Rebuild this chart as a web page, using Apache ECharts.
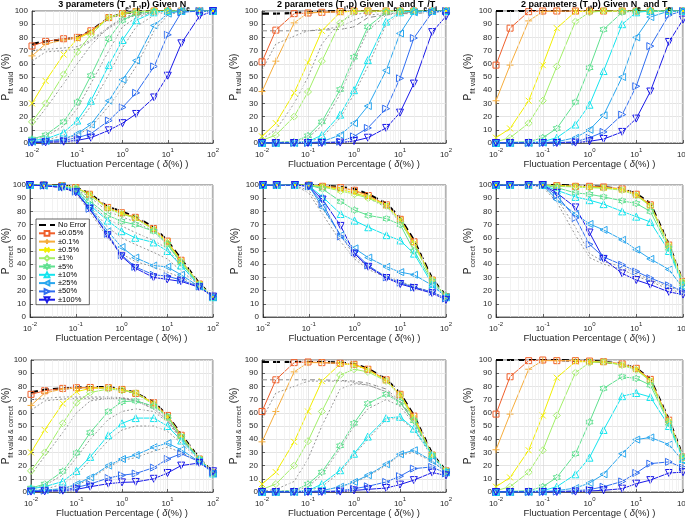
<!DOCTYPE html>
<html><head><meta charset="utf-8">
<script src="https://cdn.jsdelivr.net/npm/echarts@6/dist/echarts.min.js"></script>
<style>html,body{margin:0;padding:0;background:#fff}#c{width:685px;height:518px}</style>
</head><body><div id="c"></div><script>
const xValues = [0.01,0.02,0.05,0.1,0.2,0.5,1,2,5,10,20,50,100];
const seriesNames = ['No Error','±0.05%','±0.1%','±0.5%','±1%','±5%','±10%','±25%','±50%','±100%'];
const panelTitles = [
  '{b|3 parameters (T}{s|e}{b|,T}{s|i}{b|,p) Given N}{s|e}',
  '{b|2 parameters (T}{s|i}{b|,p) Given N}{s|e}{b| and T}{s|e}{b|/T}{s|i}',
  '{b|2 parameters (T}{s|i}{b|,p) Given N}{s|e}{b| and T}{s|e}'
];
const yAxisSubs = ['fit valid','correct','fit valid & correct'];

// Row 1: P fit valid
const fitValid_3p = [
  [75,77,78.5,80,85,95,98,99.5,100,100,100,100,100],
  [73.5,77,79,80,85,95,98,99.5,100,100,100,100,100],
  [66,75,78,79.5,84,95,98,99.5,100,100,100,100,100],
  [30,47,67,79,84,95,98,99.5,100,100,100,100,100],
  [16,30,52,69,82,95,98,99.5,100,100,100,100,100],
  [3,6,16,31,51,79,93,98,99.5,100,100,100,100],
  [2,3,8,17,32,59,78,93,99,100,100,100,100],
  [1,1.5,3,7,14,32,48,62.5,89,98,100,100,100],
  [0.5,1,2,4,7,17,27,38,58,82,99,100,100],
  [0.3,0.5,1,2,4,9.6,15,22,34.5,51,75.5,96,100]
];
const fitValid_3p_ref = [
  [70,71,72,73,78,88,94,97,99,100,100,100,100],
  [62,69,70,71,77,87,93,97,99,100,100,100,100],
  [13,26,45,60,74,88,95,98,99.5,100,100,100,100],
  [2,5,13,26,45,70,88,95,99,100,100,100,100],
  [1,2,6,14,28,52,72,88,97,99.5,100,100,100],
  [0.5,1,3,6,12,28,42,58,85,97,99.5,100,100]
];
const fitValid_TeTi = [
  [98,98,98.5,99,99.5,100,100,100,100,100,100,100,100],
  [61.5,85.5,98,98.5,99,99.5,100,100,100,100,100,100,100],
  [39,62,91,98.7,99,99.5,100,100,100,100,100,100,100],
  [5,15,38,61,85,99,100,100,100,100,100,100,100],
  [2,6,20,38.7,62,91,99.5,100,100,100,100,100,100],
  [0.2,0.5,1,5.5,16,40.5,65,88,99,100,100,100,100],
  [0.1,0.2,0.5,1,6,21.5,40,62.8,92,99,100,100,100],
  [0,0,0,0.3,1,6,15,28,55,83,99,100,100],
  [0,0,0,0,0.3,1,5,11.4,26,49,79.5,99,100],
  [0,0,0,0,0,0.3,1.5,4,11.4,23,45,84,96]
];
const fitValid_TeTi_ref = [
  [3,10,30,50,75,92,97,99,100,100,100,100,100],
  [0,0.5,1,4,13,37,62,85,97,99.5,100,100,100],
  [0,0,0.5,1,4,19,37,58,90,98,99.5,100,100]
];
const fitValid_TeTi_refDash = [85,85,85,85,85.5,86,88,95,97,98,98,99,100];
const fitValid_TeTi_ref2 = [55,75,81,85,86,88,93,97,98,98.5,99,100,100];
const fitValid_Te = [
  [100,100,100,100,100,100,100,100,100,100,100,100,100],
  [59,87,99.5,100,100,100,100,100,100,100,100,100,100],
  [32,59,92.5,99.5,100,100,100,100,100,100,100,100,100],
  [4,11,32,59,87,99.5,100,100,100,100,100,100,100],
  [1,4,15,32,58,92,99,100,100,100,100,100,100],
  [0.2,0.5,1,4,11,31,57,86,99,100,100,100,100],
  [0,0.2,0.5,1,4,14,29,54.5,90,99,100,100,100],
  [0,0,0,0.3,1,4,10,21,50,80,95.4,100,100],
  [0,0,0,0,0.3,1,4,8.4,21.5,43,73.4,97,100],
  [0,0,0,0,0,0.3,1.3,3,8.4,18.5,39,76.5,93.5]
];

// Row 2: P correct
const correct_3p = [
  [100,100,99.5,98.5,93.5,83.5,80,76,68,58,44,25.5,15],
  [100,100,99.5,98,93,83,79,75.5,67,57.5,43,25,15],
  [100,100,99.5,98,93,82.5,79,75,67,57,43,25,15],
  [100,100,99.5,98,93,82.5,78.5,75,66.5,57,42.5,25,15],
  [100,100,99.5,98,92.5,82,78,75,66,56,42,25,15],
  [100,100,99,97,88,77,72.5,70,65,55,41,24.5,15],
  [100,100,99,96,85,73,65,60,56.5,50,39,24,15],
  [100,99.5,99,95,83,65,53,45,39,38,32,23,15],
  [100,99.5,98.5,95,82,63,47,38,32,31,28,23,15.5],
  [100,99.5,98,94.5,82,62,46,37,30,28.5,27,22.5,15.5]
];
const correct_3p_ref = [
  [100,100,99.5,97,91,80,76,72,65,55,41,25,15],
  [100,100,99,96,87,74,69,64,58,52,39,24,15],
  [100,99.5,98.5,95,84,68,60,55,49,44,35,24,15],
  [100,99.5,98,94,80,60,48,42,38,34,30,23,15]
];
const correct_TeTi = [
  [100,100,100,100,99.5,98.5,97,93,86,75,58,29,16],
  [100,100,100,100,99,98,96,92,85,74,57,28,15.5],
  [100,100,100,100,99,98,95.5,92,84.5,74,56.5,28,15.5],
  [100,100,100,100,99,96.5,94,91,84.5,73.5,56,28,15.5],
  [100,100,100,100,98.5,95.5,93,90,84,72.5,55,28,15.5],
  [100,100,100,100,97,87.5,81,77,74.5,70,50,27,16],
  [100,100,100,99.5,91,78,73,68,62,58,48,25,15],
  [100,100,100,99.5,83,62,52,45,38,34,32,24,15],
  [100,100,100,99,86,61,49,39,30,26,22.5,19,14],
  [100,100,100,99,89,69,48,38,29.5,25,22,18,13]
];
const correct_TeTi_ref = [
  [100,100,100,100,99,97,94,90,83,72,55,28,15],
  [100,100,99.5,96,82,62,46,38,31,27,23,19,14],
  [100,100,99.5,94,78,57,44,36,30,26,22,19,14]
];
const correct_Te = [
  [100,100,100,100,100,99.5,99,98.5,97,93.5,86,55,27],
  [100,100,100,100,99.5,99,99,98.5,97,93,85,54.5,27],
  [100,100,100,100,99.5,99,98.5,98,97,93,85,54.5,27],
  [100,100,100,100,99.5,99,98.5,98,96.5,92.5,84.5,54,26.5],
  [100,100,100,100,99,98.5,98,97.5,96,92,84,53.5,26.5],
  [100,100,100,100,98,94,93,91,88,86,80,52,25],
  [100,100,100,100,96,91,88.5,85.5,80,76,72,50,24],
  [100,100,100,100,89,78,70.5,66,58.5,51,44,36,22],
  [100,100,100,100,92,75,55,45.5,39.5,34.5,29.5,24,19.5],
  [100,100,100,100,94,83,64,44,33,28,24.5,19,17]
];
const correct_Te_ref = [
  [100,100,100,99,90,68,48,42,38,33,28,23,19],
  [100,100,100,98.5,87,62,45,40,36,31,27,21,18]
];

// Row 3: P fit valid & correct
const both_3p = [
  [75.5,77.5,78.5,79,79.5,79.5,78,75,68,58,43.5,25.5,15],
  [74,76.7,78.5,79,79.2,79,77.7,74.7,67.6,58,43,25,14.5],
  [65.6,75,78,78.7,79,79,77.5,75,67.5,57.5,43,25,14.5],
  [30,47,67,76,78.5,79,77.5,75,67,57,42.5,25,14.5],
  [16,30,52,67.6,75.4,78,77,75,66,56.5,42,25,14.5],
  [3,6,15.7,29.6,45,61,68.4,69,65,57,42,25,14.5],
  [2.5,4,8,16,26.6,43,52,56,56,50,39,25,14],
  [1,1.5,2.5,6,11,20,25,28,34,37,32,23,14],
  [0.5,1,1.5,3.5,6,10.6,12.7,14,18.5,25,29,23,15],
  [0.3,0.5,1,2,4,6.3,7.3,7.6,10,14.4,20,22,15.7]
];
const both_3p_ref = [
  [70,71,72,72,72,72,71.5,70,64,55,41,25,15],
  [62,69,70.5,71,71,71,71,69,63,54,41,25,15],
  [13,27,45,60,69,71,71,69,63,54,41,25,15],
  [2,5,13,26,40,55,61,63,61,53,40,25,15],
  [1,2,6,13,24,39,47,50,50,46,37,24,15],
  [0.5,1,2.5,5,10,19,24,26,31,34,30,23,15]
];
const both_TeTi = [
  [98.5,98.5,98.5,98.5,98.5,98,97,93.5,85.5,75,58,29,16],
  [61,85,98,98.5,98,97.5,96.7,93,85,74,57.5,28,16],
  [38,61,91,98,98,97.5,96.5,93,84.5,74,57,28,16],
  [6,15,38,61,84,97,96.5,92.5,84.5,74,56.5,28,16],
  [2,6,20,38.5,61,88.6,93,91,84,73,55,28,16],
  [0.2,0.5,1,6,15,35,52,67,74,68,54,28,15.7],
  [0.1,0.2,0.5,1,6,16.5,29,42,56,57,48,28,15],
  [0,0,0,0.3,1,4,7.6,12.7,21,28.6,31.6,23.5,15],
  [0,0,0,0,0.3,1,2.5,4.3,7.6,12,17.7,19,14],
  [0,0,0,0,0,0.3,1.2,2,3,5.6,9,14.7,12.6]
];
const both_TeTi_ref = [
  [55,75,80,84,84,84,83,81,76,68,54,28,16],
  [0.5,2,8,25,50,78,82,81,76,68,53,28,16],
  [0,0.5,1,4,13,33,50,63,70,65,52,27,15],
  [0,0.2,0.5,1,4,15,28,40,55,56,47,27,15],
  [0,0,0,0.3,1,4,7,12,20,28,30,23,15]
];
const both_TeTi_refDash = [85,85,85,85,85,84.5,84,82.5,78,69,55,28,16];
const both_Te = [
  [100,100,100,100,100,99.5,99.5,98.7,97,93.7,85.5,55,27],
  [59,87.3,99.5,100,99.5,99.5,99.2,98.7,97,93.7,85.3,54.4,26.5],
  [32,59,93,99.5,99.5,99.5,99,98.5,97,93.5,85,54,26.5],
  [4,11,31.6,58,86.6,98.7,98.7,98.5,96.5,93,84.5,53.5,26],
  [1,4,15,31.6,58,90.4,98,98.7,96,92.5,84,53,26],
  [0.2,0.5,1,4,11,29,53,78.5,87.3,86,81,52,26.6],
  [0,0.2,0.5,1,4,13.4,26,47,72.6,75,72,50,25],
  [0,0,0,0.3,1,3,6.8,13.4,29,39.7,41.3,36,23.5],
  [0,0,0,0,0.3,1,1.8,4,8,14.4,21.5,22.8,18.5],
  [0,0,0,0,0,0.3,0.8,1.3,2.5,6.3,9,14.4,15]
];

// ---- styling ----
const FONT = 'Liberation Sans, Arial, Helvetica, sans-serif';
const colors = ['#000000','#ef5f2b','#f6ad3c','#f2ee00','#a2ef68','#5fe08f','#14e4ee','#2aa6ee','#306ef0','#1a1ae8'];
const symbols = ['none','rect','path://M5,0L5,10M0,5L10,5','path://M0,0L10,10M0,10L10,0','diamond',
  'path://M0,-10L2.9,-5L8.66,-5L5.8,0L8.66,5L2.9,5L0,10L-2.9,5L-8.66,5L-5.8,0L-8.66,-5L-2.9,-5Z',
  'triangle','path://M0,5L10,0L10,10Z','path://M10,5L0,0L0,10Z','path://M0,0L10,0L5,10Z'];
const symSizes = [0,6,7,6,7,7,7,7,7,7];

const grids = [
  {left:32, top:11, width:181, height:132},
  {left:262, top:11, width:184, height:132},
  {left:496, top:11, width:187, height:132},
  {left:30, top:185, width:183, height:132},
  {left:263, top:185, width:183, height:132},
  {left:496, top:185, width:187, height:132},
  {left:31, top:360, width:182, height:132},
  {left:262, top:360, width:184, height:132},
  {left:496, top:360, width:187, height:132}
];
const yNameGaps = [17,19,19,15,19,19,16,19,19];

const panels = [
  {rows: fitValid_3p, refs: fitValid_3p_ref, dash: []},
  {rows: fitValid_TeTi, refs: fitValid_TeTi_ref.concat([fitValid_TeTi_ref2]), dash: [fitValid_TeTi_refDash]},
  {rows: fitValid_Te, refs: [], dash: []},
  {rows: correct_3p, refs: correct_3p_ref, dash: []},
  {rows: correct_TeTi, refs: correct_TeTi_ref, dash: []},
  {rows: correct_Te, refs: correct_Te_ref, dash: []},
  {rows: both_3p, refs: both_3p_ref, dash: []},
  {rows: both_TeTi, refs: both_TeTi_ref, dash: [both_TeTi_refDash]},
  {rows: both_Te, refs: [], dash: []}
];

const minorX = [];
for (let k = -2; k <= 1; k++) for (let m = 2; m <= 9; m++) minorX.push(+(m * Math.pow(10, k)).toPrecision(3));

const axisColor = '#262626';
const xAxes = [], yAxes = [], series = [];
grids.forEach((g, i) => {
  const row = Math.floor(i / 3);
  xAxes.push({
    type: 'log', logBase: 10, gridIndex: i, min: 0.01, max: 100,
    axisLine: {show: true, lineStyle: {color: axisColor, width: 0.7}},
    axisTick: {show: true, inside: true, length: 3, lineStyle: {color: axisColor, width: 0.7}},
    splitLine: {show: true, lineStyle: {color: '#d9d9d9', width: 0.7}},
    axisLabel: {
      color: axisColor, margin: 4,
      formatter: v => '{b|10}{s|' + Math.round(Math.log10(v)) + '}',
      rich: {b: {fontSize: 8, fontFamily: FONT, verticalAlign: 'bottom', lineHeight: 12, color: axisColor},
             s: {fontSize: 6, fontFamily: FONT, verticalAlign: 'top', lineHeight: 12, color: axisColor}}
    },
    name: '{n|Fluctuation Percentage ( }{i|δ}{n|(%) )}',
    nameLocation: 'middle', nameGap: 16, nameMoveOverlap: false,
    nameTextStyle: {rich: {n: {fontSize: 9.5, fontFamily: FONT, color: axisColor},
                           i: {fontSize: 9.5, fontFamily: FONT, fontStyle: 'italic', color: axisColor}}}
  });
  yAxes.push({
    type: 'value', gridIndex: i, min: 0, max: 100, interval: 10,
    axisLine: {show: true, lineStyle: {color: axisColor, width: 0.7}},
    axisTick: {show: true, inside: true, length: 3, lineStyle: {color: axisColor, width: 0.7}},
    splitLine: {show: true, lineStyle: {color: '#d9d9d9', width: 0.7}},
    axisLabel: {color: axisColor, fontSize: 8, fontFamily: FONT, margin: 4},
    name: '{p|P}{s|' + yAxisSubs[row] + '}{p| (%)}',
    nameLocation: 'middle', nameGap: yNameGaps[i], nameRotate: 90, nameMoveOverlap: false,
    nameTextStyle: {rich: {p: {fontSize: 10, fontFamily: FONT, color: axisColor, verticalAlign: 'top', lineHeight: 14},
                           s: {fontSize: 7, fontFamily: FONT, color: axisColor, verticalAlign: 'bottom', lineHeight: 14}}}
  });
  // minor vertical grid lines
  series.push({
    type: 'line', xAxisIndex: i, yAxisIndex: i, data: [], silent: true, z: 1,
    markLine: {silent: true, symbol: 'none', animation: false, label: {show: false},
      lineStyle: {color: '#ececec', width: 0.7, type: 'solid'},
      data: minorX.map(v => ({xAxis: v}))}
  });
  const p = panels[i];
  p.refs.forEach(r => series.push({
    type: 'line', xAxisIndex: i, yAxisIndex: i, silent: true, z: 2,
    data: xValues.map((x, j) => [x, r[j]]), symbol: 'none',
    lineStyle: {color: '#8a8a8a', width: 0.9, type: [2, 2]}
  }));
  p.dash.forEach(r => series.push({
    type: 'line', xAxisIndex: i, yAxisIndex: i, silent: true, z: 2,
    data: xValues.map((x, j) => [x, r[j]]), symbol: 'none',
    lineStyle: {color: '#8a8a8a', width: 1, type: [5, 3]}
  }));
  p.rows.forEach((r, k) => series.push({
    name: seriesNames[k], type: 'line', xAxisIndex: i, yAxisIndex: i, z: 3,
    data: xValues.map((x, j) => [x, r[j]]),
    symbol: symbols[k], symbolSize: symSizes[k], showSymbol: k !== 0,
    lineStyle: {color: colors[k], width: k === 0 ? 2.2 : 1, type: k === 0 ? [7, 4] : 'solid'},
    itemStyle: {color: 'none', borderColor: colors[k], borderWidth: 1},
    emphasis: {disabled: true}
  }));
});

const titleCenters = [124, 357, 596];
const titles = panelTitles.map((t, i) => ({
  text: t, left: titleCenters[i], top: 0, textAlign: 'center', padding: 0,
  textStyle: {rich: {
    b: {fontSize: 9, fontWeight: 'bold', fontFamily: FONT, color: '#000', verticalAlign: 'top', lineHeight: 13},
    s: {fontSize: 6.5, fontWeight: 'bold', fontFamily: FONT, color: '#000', verticalAlign: 'bottom', lineHeight: 13}
  }}
}));

const legendData = seriesNames.map((n, k) => k === 0
  ? {name: n, itemStyle: {color: 'transparent', borderWidth: 0, opacity: 0}}
  : {name: n});

const chart = echarts.init(document.getElementById('c'), null, {renderer: 'canvas'});
chart.setOption({
  animation: false,
  backgroundColor: '#fff',
  title: titles,
  grid: grids.map(g => Object.assign({show: true, borderColor: axisColor, borderWidth: 0.7, backgroundColor: '#fff', containLabel: false, outerBoundsMode: 'none'}, g)),
  xAxis: xAxes,
  yAxis: yAxes,
  legend: {
    data: legendData, orient: 'vertical', left: 36, top: 219,
    itemWidth: 16, itemHeight: 6, itemGap: 0.3, padding: [2, 3, 1, 2],
    backgroundColor: '#fff', borderColor: axisColor, borderWidth: 0.7,
    selectedMode: false, z: 10,
    itemStyle: {color: '#fff'},
    textStyle: {fontSize: 7.5, lineHeight: 8, fontFamily: FONT, color: '#000', padding: [0, 0, 0, -2]}
  },
  series: series
});
</script></body></html>
